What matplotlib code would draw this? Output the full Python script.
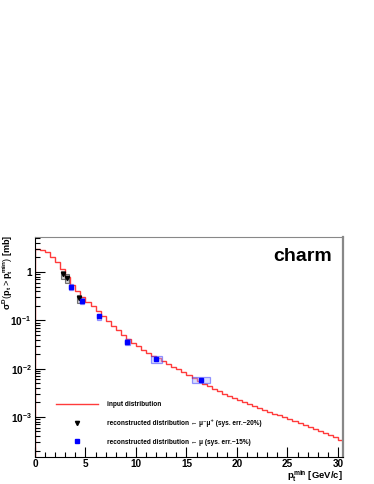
import numpy as np
import matplotlib
matplotlib.use('Agg')
import matplotlib.pyplot as plt
from matplotlib.patches import Rectangle
from matplotlib.ticker import FixedLocator, FuncFormatter, MultipleLocator

plt.rcParams['font.family'] = ['Liberation Sans', 'DejaVu Sans']
plt.rcParams['mathtext.fontset'] = 'custom'
plt.rcParams['mathtext.rm'] = 'Liberation Sans'
plt.rcParams['mathtext.it'] = 'Liberation Sans:bold'
plt.rcParams['mathtext.bf'] = 'Liberation Sans:bold'

# input distribution, integrated cross section per 0.5 GeV bin [mb]
edges = np.arange(0, 31, 0.5)
sigma_in = [3.02, 2.88, 2.57, 2.09, 1.58, 1.15, 0.794, 0.550, 0.398, 0.302,
            0.240, 0.195, 0.158, 0.120, 0.0955, 0.0759, 0.0617, 0.0501, 0.0407, 0.0339,
            0.0288, 0.0245, 0.0214, 0.0186, 0.0162, 0.0141, 0.0126, 0.0110, 0.00977, 0.00851,
            0.00741, 0.00646, 0.00562, 0.00490, 0.00427, 0.00380, 0.00339, 0.00302, 0.00269, 0.00245,
            0.00224, 0.00204, 0.00186, 0.00170, 0.00155, 0.00141, 0.00129, 0.00117, 0.00107, 0.000977,
            0.000891, 0.000813, 0.000741, 0.000676, 0.000617, 0.000562, 0.000513, 0.000468, 0.000427, 0.000389,
            0.000330]

# reconstructed from mu- mu+
x_mm = [2.75, 3.15, 4.4]
y_mm = [0.89, 0.75, 0.285]
w_mm = [0.4, 0.4, 0.4]
# reconstructed from single mu
x_m = [3.6, 4.7, 6.3, 9.15, 12.0, 16.4]
y_m = [0.49, 0.25, 0.12, 0.036, 0.0156, 0.0058]
w_m = [0.4, 0.4, 0.4, 0.5, 1.1, 1.8]

fig = plt.figure(figsize=(3.74, 4.84), dpi=100)
ax = fig.add_axes([0.0936, 0.0558, 0.8234, 0.4545])

ax.stairs(sigma_in, edges, color='#ff3b3b', lw=1.0, label='input distribution')

for x, y, w in zip(x_mm, y_mm, w_mm):
    ax.add_patch(Rectangle((x - w/2, y*0.8), w, y*0.4, facecolor='#999999',
                           alpha=0.5, edgecolor='black', lw=0.8))
for x, y, w in zip(x_m, y_m, w_m):
    ax.add_patch(Rectangle((x - w/2, y*0.85), w, y*0.3, facecolor='#aab4ff',
                           alpha=0.45, edgecolor='#2020ff', lw=0.9))
ax.plot(x_mm, y_mm, 'v', color='black', ms=3, ls='none',
        label='reconstructed distribution \u2190 \u03bc\u207b\u03bc\u207a (sys. err.~20%)')
ax.plot(x_m, y_m, 's', color='#0000ff', ms=2.5, ls='none',
        label='reconstructed distribution \u2190 \u03bc (sys. err.~15%)')

ax.set_yscale('log')
ax.set_xlim(0, 30.5)
ax.set_ylim(1.48e-4, 5.3)

ax.xaxis.set_major_locator(MultipleLocator(5))
ax.xaxis.set_minor_locator(MultipleLocator(1))
ax.yaxis.set_major_locator(FixedLocator([1e-3, 1e-2, 1e-1, 1]))
ax.yaxis.set_minor_locator(FixedLocator([m * 10.0**e for e in range(-4, 1) for m in range(2, 10)]))


def yfmt(v, pos):
    if abs(v - 1) < 1e-9:
        return '1'
    return r'$\mathbf{10^{%d}}$' % int(round(np.log10(v)))


ax.yaxis.set_major_formatter(FuncFormatter(yfmt))
ax.tick_params(which='both', direction='in', top=False, right=False,
               labelsize=7.2, width=0.8)
ax.tick_params(which='major', length=7)
ax.tick_params(which='minor', length=3.5)
ax.tick_params(axis='x', pad=1.5)
ax.tick_params(axis='y', pad=2.5)
for lab in ax.get_xticklabels() + ax.get_yticklabels():
    lab.set_fontweight('bold')

for s in ['top', 'right']:
    ax.spines[s].set_color('#888888')
ax.spines['right'].set_linewidth(1.6)

ax.set_xlabel(r'$p_{t}^{min}$ [GeV/c]', fontsize=6.8, fontweight='bold', ha='right', va='top')
ax.xaxis.set_label_coords(1.0, -0.055)
ax.set_ylabel(r'$\sigma^{D}(p_{t}>p_{t}^{min})$ [mb]', fontsize=6.6, fontweight='bold', ha='right', va='center')
ax.yaxis.set_label_coords(-0.088, 1.01)

ax.text(0.965, 0.91, 'charm', transform=ax.transAxes, ha='right', va='center',
        fontsize=14, fontweight='bold')

leg = ax.legend(loc='lower left', bbox_to_anchor=(0.03, 0.0), frameon=False,
                prop={'size': 4.7, 'weight': 'bold'}, handlelength=6.5,
                handletextpad=1.3, labelspacing=1.75, borderaxespad=1.35)

fig.savefig('out.png', dpi=100)
